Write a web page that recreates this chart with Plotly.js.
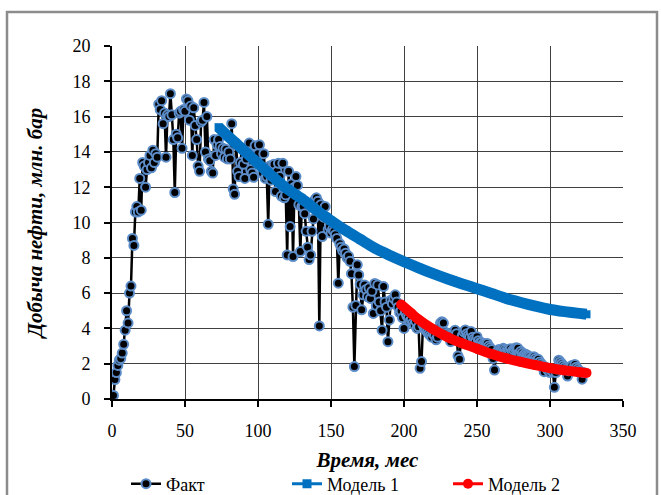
<!DOCTYPE html>
<html>
<head>
<meta charset="utf-8">
<script src="https://cdn.plot.ly/plotly-3.0.1.min.js"></script>
<style>
html,body{margin:0;padding:0;background:#fff;}
#chart{width:661px;height:495px;}
</style>
</head>
<body>
<div id="chart"></div>
<script>
// Fact: monthly oil production (mln bbl), months 1..323
const factValues = [
  0.2, 1.1, 1.5, 1.9, 2.2, 2.3, 2.6, 3.1, 3.9, 5.0,
  4.3, 6.0, 6.4, 9.1, 8.7, 10.6, 10.9, 10.6, 12.5, 10.7,
  13.4, 13.2, 12.0, 13.0, 13.4, 13.8, 13.1, 14.1, 13.4, 13.9,
  13.7, 16.7, 16.4, 16.9, 15.6, 16.2, 13.7, 16.1, 16.0, 17.3,
  16.1, 14.7, 11.7, 15.0, 14.8, 16.2, 16.3, 14.2, 16.4, 16.3,
  17.0, 16.9, 15.8, 16.6, 13.8, 16.5, 15.5, 14.7, 13.2, 12.9,
  15.7, 15.8, 16.8, 14.0, 16.0, 13.6, 13.5, 12.9, 12.8, 14.7,
  13.8, 14.4, 14.7, 14.3, 13.9, 14.2, 13.7, 14.15, 13.6, 14.0,
  13.6, 15.6, 11.9, 11.6, 14.5, 12.9, 12.6, 13.4, 14.2, 13.3,
  12.5, 13.6, 14.0, 14.5, 13.0, 12.8, 12.56, 14.35, 13.5, 13.9,
  14.4, 13.2, 12.8, 13.9, 12.5, 12.6, 9.9, 13.2, 12.4, 13.26,
  13.3, 11.75, 12.9, 13.35, 12.6, 11.5, 13.35, 11.4, 11.56, 8.16,
  12.9, 9.77, 12.2, 8.07, 12.0, 12.6, 12.1, 11.0, 8.35, 10.9,
  10.9, 10.5, 9.5, 8.6, 7.9, 8.16, 9.5, 10.2, 11.3, 11.4,
  11.2, 4.14, 11.0, 9.2, 10.3, 10.9, 10.3, 9.6, 9.77, 9.4,
  9.6, 9.5, 9.3, 9.1, 6.56, 8.8, 8.6, 8.4, 8.5, 8.26,
  8.0, 8.1, 7.8, 7.1, 5.2, 1.84, 5.3, 7.6, 7.03, 6.5,
  5.05, 5.9, 6.46, 6.2, 5.8, 6.3, 5.7, 6.1, 4.85, 6.55,
  5.3, 6.46, 5.5, 5.0, 3.9, 6.37, 5.5, 5.2, 3.25, 4.48,
  5.6, 5.4, 5.7, 5.9, 5.5, 5.2, 4.9, 5.0, 4.6, 4.0,
  4.9, 4.7, 4.6, 4.4, 4.5, 4.3, 4.2, 4.4, 4.0, 4.1,
  1.74, 2.12, 4.2, 4.0, 3.9, 3.8, 3.7, 3.6, 3.5, 3.7,
  3.6, 3.35, 3.5, 3.9, 4.3, 4.38, 4.3, 3.8, 3.7, 3.6,
  3.5, 3.25, 3.6, 3.8, 3.9, 3.7, 2.44, 2.25, 3.4, 3.6,
  3.8, 3.91, 3.7, 3.6, 3.5, 3.82, 3.5, 3.4, 3.3, 3.53,
  3.3, 3.2, 3.2, 3.1, 3.15, 3.1, 3.15, 3.0, 2.9, 2.8,
  2.3, 1.64, 2.6, 2.7, 2.8, 2.75, 2.8, 2.87, 2.8, 2.7,
  2.8, 2.75, 2.85, 2.7, 2.8, 2.87, 2.9, 2.87, 2.6, 2.7,
  2.6, 2.5, 2.55, 2.5, 2.45, 2.4, 2.3, 2.35, 2.4, 2.3,
  2.2, 2.25, 2.1, 2.0, 1.9, 1.55, 1.8, 1.7, 1.6, 1.5,
  1.6, 1.55, 0.66, 1.5, 1.7, 2.2, 2.1, 2.0, 1.9, 1.8,
  1.7, 1.3, 1.6, 1.8, 1.9, 1.7, 1.96, 1.8, 1.7, 1.6,
  1.46, 1.12, 1.5
];
const factMonths = factValues.map((_, i) => i + 1);

// Model 1
const model1Months = [73, 80, 90, 100, 110, 120, 130, 140, 150, 160, 170, 180, 190, 200, 210, 220, 230, 240, 250, 260, 270, 280, 290, 300, 310, 320, 325];
const model1Values = [15.4, 14.85, 14.1, 13.35, 12.6, 11.9, 11.35, 10.7, 10.1, 9.55, 9.05, 8.55, 8.15, 7.78, 7.43, 7.1, 6.8, 6.52, 6.25, 5.98, 5.7, 5.47, 5.26, 5.07, 4.95, 4.85, 4.8];

// Model 2
const model2Months = [198, 205, 210, 220, 230, 240, 250, 260, 270, 280, 290, 300, 310, 320, 325];
const model2Values = [5.35, 4.85, 4.5, 3.95, 3.5, 3.15, 2.85, 2.55, 2.3, 2.1, 1.92, 1.75, 1.62, 1.52, 1.48];

const seriesNames = ['Факт', 'Модель 1', 'Модель 2'];
const xTickVals = [0, 50, 100, 150, 200, 250, 300, 350];
const yTickVals = [0, 2, 4, 6, 8, 10, 12, 14, 16, 18, 20];

const serif = "Liberation Serif";
const BLUE = '#0070C0', RED = '#FF0000', EDGE = '#5B8CC8';

const traces = [
  {
    x: factMonths, y: factValues, name: seriesNames[0], type: 'scatter', mode: 'lines+markers',
    line: {color: '#000000', width: 2.5},
    marker: {symbol: 'circle', size: 9, color: '#000000', line: {color: EDGE, width: 2}},
    showlegend: true, legendrank: 1
  },
  {
    x: model1Months, y: model1Values, name: seriesNames[1], type: 'scatter', mode: 'lines+markers',
    line: {color: BLUE, width: 11, shape: 'spline', smoothing: 0.6},
    marker: {symbol: 'square', size: 8, color: BLUE, line: {width: 0}},
    showlegend: false
  },
  {
    x: model2Months, y: model2Values, name: seriesNames[2], type: 'scatter', mode: 'lines+markers',
    line: {color: RED, width: 10, shape: 'spline', smoothing: 0.6},
    marker: {symbol: 'circle', size: 10, color: RED, line: {width: 0}},
    showlegend: false
  },
  // legend entries (thin line + marker, as in the original legend)
  {
    x: [null], y: [null], name: seriesNames[1], type: 'scatter', mode: 'lines+markers',
    line: {color: BLUE, width: 3}, marker: {symbol: 'square', size: 9, color: BLUE},
    showlegend: true, legendrank: 2, hoverinfo: 'skip'
  },
  {
    x: [null], y: [null], name: seriesNames[2], type: 'scatter', mode: 'lines+markers',
    line: {color: RED, width: 3}, marker: {symbol: 'circle', size: 10, color: RED},
    showlegend: true, legendrank: 3, hoverinfo: 'skip'
  }
];

const L = 112, R = 623, T = 46, B = 399, W = 661, H = 495;
const pw = R - L, ph = B - T;

const layout = {
  width: W, height: H,
  margin: {l: L, r: W - R, t: T, b: H - B, autoexpand: false},
  paper_bgcolor: '#ffffff', plot_bgcolor: '#ffffff',
  font: {family: serif, color: '#000000', size: 17},
  showlegend: true,
  xaxis: {
    range: [0, 350], tickvals: xTickVals, ticktext: xTickVals.map(String),
    showgrid: true, gridcolor: '#404040', gridwidth: 1,
    zeroline: false, showline: true, linecolor: '#000000', linewidth: 2,
    ticks: 'outside', ticklen: 6, tickwidth: 2, tickcolor: '#000000',
    ticklabelstandoff: 8,
    tickfont: {family: serif, size: 18, color: '#000'},
    title: {text: '<b><i>Время, мес</i></b>', font: {family: serif, size: 21, color: '#000'}, standoff: 13},
    automargin: false, fixedrange: true
  },
  yaxis: {
    range: [0, 20], tickvals: yTickVals, ticktext: yTickVals.map(String),
    showgrid: true, gridcolor: '#404040', gridwidth: 1,
    zeroline: false, showline: true, linecolor: '#000000', linewidth: 2,
    ticks: 'outside', ticklen: 6, tickwidth: 2, tickcolor: '#000000',
    ticklabelstandoff: 10,
    tickfont: {family: serif, size: 18, color: '#000'},
    title: {text: '<b><i>Добыча нефти, млн. бар</i></b>', font: {family: serif, size: 21, color: '#000'}, standoff: 24},
    automargin: false, fixedrange: true
  },
  legend: {
    orientation: 'h', x: 0.5, xanchor: 'center', y: (B - 484) / ph, yanchor: 'middle',
    font: {family: serif, size: 18, color: '#000'},
    bgcolor: 'rgba(0,0,0,0)', traceorder: 'normal',
    entrywidth: 116, entrywidthmode: 'pixels'
  },
  shapes: [{
    type: 'rect', xref: 'paper', yref: 'paper',
    x0: (7 - L) / pw, x1: (657 - L) / pw, y0: (B - 520) / ph, y1: (B - 12) / ph,
    line: {color: '#8c8c8c', width: 2.5}, fillcolor: 'rgba(0,0,0,0)', layer: 'below'
  }]
};

Plotly.newPlot('chart', traces, layout, {displayModeBar: false, staticPlot: true});
</script>
</body>
</html>
